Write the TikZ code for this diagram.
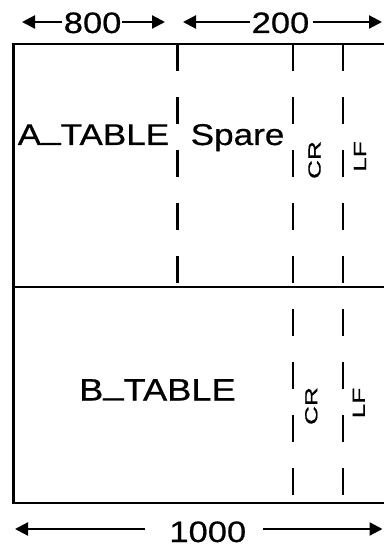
\documentclass[tikz,border=0pt]{standalone}
\usepackage{fontspec}
\setmainfont{Liberation Sans}
\newfontfamily\mainlbl[FakeStretch=1.17,FakeBold=0.6]{Liberation Sans}
\newfontfamily\smalllbl[FakeStretch=1.5,FakeBold=0.6]{Liberation Sans}
\usetikzlibrary{arrows.meta}
\begin{document}
\begin{tikzpicture}[x=1pt,y=-1pt,
  frame/.style={line width=2.3pt},
  divider/.style={line width=2.2pt, dash pattern=on 27pt off 26pt},
  dimarrow/.style={line width=2.2pt, -{Triangle[length=13pt,width=13pt]}},
  bigtext/.style={inner sep=0pt, font=\mainlbl\fontsize{30}{30}\selectfont},
  biggertext/.style={inner sep=0pt, font=\mainlbl\fontsize{31}{31}\selectfont},
  digit/.style={inner sep=0pt, font=\mainlbl\fontsize{29.5}{30}\selectfont},
  sidetext/.style={inner sep=0pt, rotate=90, font=\smalllbl\fontsize{17.5}{18}\selectfont}]
\useasboundingbox (0,0) rectangle (383,548);
% frame
\coordinate (TL) at (13.5,44);
\coordinate (ML) at (13.5,287);
\coordinate (BL) at (13.5,503);
\coordinate (TR) at (392,44);
\coordinate (MR) at (392,287);
\coordinate (BR) at (392,503);
\draw[frame] (TR) -- (TL) -- (BL) -- (BR);
\draw[frame] (ML) -- (MR);
% dashed dividers
\coordinate (s1t) at (177.5,44);
\coordinate (s1b) at (177.5,287);
\coordinate (s2t) at (293.3,44);
\coordinate (s2b) at (293.3,503);
\coordinate (s3t) at (343.3,44);
\coordinate (s3b) at (343.3,503);
\draw[divider] (s1t) -- (s1b);
\draw[divider] (s2t) -- (s2b);
\draw[divider] (s3t) -- (s3b);
% labels
\node[bigtext, anchor=base west] (atable) at (17.5,145) {A\raisebox{0.2em}{\_}TABLE};
\node[bigtext, anchor=base west] (spare) at (190.5,145) {Spare};
\node[biggertext, anchor=base west] (btable) at (79,400.5) {B\raisebox{0.2em}{\_}TABLE};
\node[sidetext] (cr1) at (314.5,160) {CR};
\node[sidetext] (lf1) at (360,156.5) {LF};
\node[sidetext] (cr2) at (311.3,406) {CR};
\node[sidetext] (lf2) at (358.8,403) {LF};
% dimensions
\node[digit, anchor=base west] (d800) at (63.6,33) {800};
\node[digit, anchor=base west] (d200) at (251.5,33) {200};
\node[digit, anchor=base west] (d1000) at (169.2,542) {1000};
\coordinate (a800l) at (22,22);
\coordinate (a800r) at (165,22);
\coordinate (a200l) at (183,22);
\coordinate (a200r) at (382,22);
\coordinate (a1000l) at (15,529);
\coordinate (a1000r) at (382.5,529);
\draw[dimarrow, shorten <=1.6pt] (d800.west |- a800l) -- (a800l);
\draw[dimarrow] (d800.east |- a800r) -- (a800r);
\draw[dimarrow, shorten <=1.5pt] (d200.west |- a200l) -- (a200l);
\draw[dimarrow, shorten <=4pt] (d200.east |- a200r) -- (a200r);
\draw[dimarrow, shorten <=24pt] (d1000.west |- a1000l) -- (a1000l);
\draw[dimarrow, shorten <=17pt] (d1000.east |- a1000r) -- (a1000r);
\end{tikzpicture}
\end{document}
